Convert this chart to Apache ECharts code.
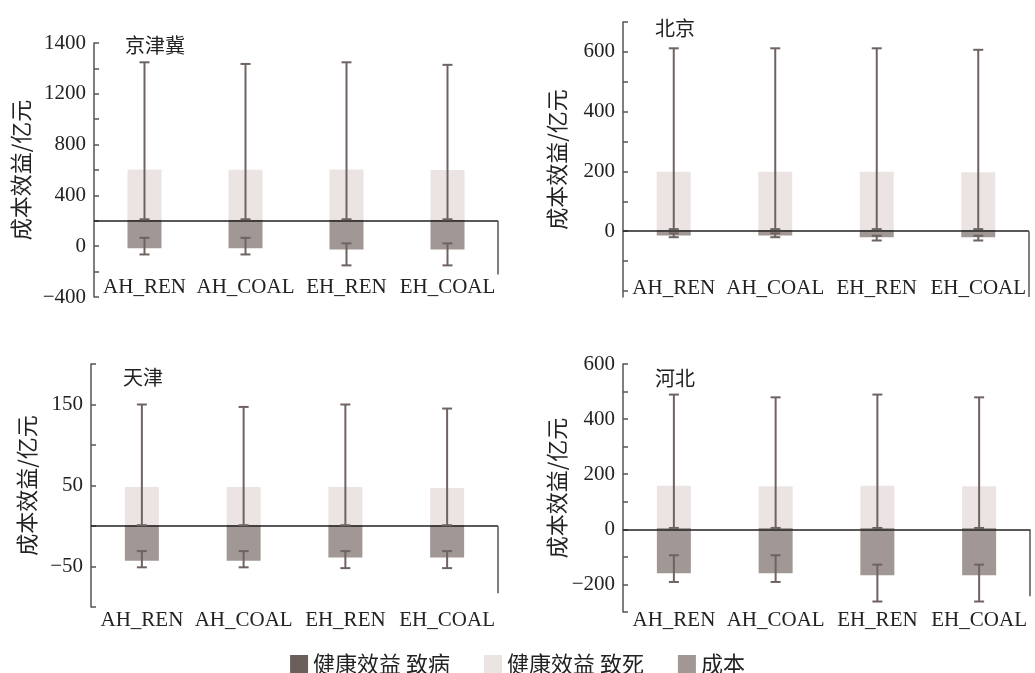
<!DOCTYPE html>
<html><head><meta charset="utf-8">
<script src="https://cdn.jsdelivr.net/npm/echarts@6/dist/echarts.min.js"></script>
<style>html,body{margin:0;padding:0;background:#fff}#c{width:1035px;height:673px}</style>
</head><body><div id="c"></div>
<script>
const categories = ['AH_REN', 'AH_COAL', 'EH_REN', 'EH_COAL'];
const regions = ['京津冀', '北京', '天津', '河北'];
const seriesNames = ['健康效益 致病', '健康效益 致死', '成本'];

// 京津冀
const morbJJJ = [8, 8, 8, 8];
const mortJJJ = [396, 394, 396, 392];
const costJJJ = [-216, -216, -226, -226];
const benLoJJJ = [12, 12, 12, 12];
const benHiJJJ = [1248, 1235, 1248, 1228];
const costHiJJJ = [-134, -134, -178, -178];
const costLoJJJ = [-265, -265, -351, -351];
// 北京
const morbBJ = [3, 3, 3, 3];
const mortBJ = [196, 196, 196, 194];
const costBJ = [-14, -14, -20, -20];
const benLoBJ = [7, 7, 7, 7];
const benHiBJ = [612, 612, 612, 607];
const costHiBJ = [-7, -7, -15, -15];
const costLoBJ = [-20, -20, -31, -31];
// 天津
const morbTJ = [1, 1, 1, 1];
const mortTJ = [47, 47, 47, 46];
const costTJ = [-43, -43, -39, -39];
const benLoTJ = [1, 1, 1, 1];
const benHiTJ = [150, 147, 150, 145];
const costHiTJ = [-31, -31, -31, -31];
const costLoTJ = [-51, -51, -52, -52];
// 河北
const morbHB = [4, 4, 4, 4];
const mortHB = [154, 152, 154, 152];
const costHB = [-159, -159, -167, -167];
const benLoHB = [5, 5, 5, 5];
const benHiHB = [489, 479, 489, 479];
const costHiHB = [-94, -94, -128, -128];
const costLoHB = [-191, -191, -262, -262];

// axis ticks and labels
const ticksJJJ = [-600, -400, -200, 0, 200, 400, 600, 800, 1000, 1200, 1400];
const labelPosJJJ = [1400, 1000, 600, 200, -200, -600];
const labelTextJJJ = ['1400', '1200', '800', '400', '0', '\u2212400'];
const ticksBJ = [-200, -100, 0, 100, 200, 300, 400, 500, 600, 700];
const labelPosBJ = [0, 200, 400, 600];
const ticksTJ = [-100, -50, 0, 50, 100, 150, 200];
const labelPosTJ = [-50, 50, 150];
const ticksHB = [-300, -200, -100, 0, 100, 200, 300, 400, 500, 600];
const labelPosHB = [-200, 0, 200, 400, 600];
const rightBorderEnd = [-423, -220, -83, -243];

const colors = ['#6b5f5c', '#ece4e3', '#a19794'];
const errColor = '#6e6361';
const CJK = 'Noto Sans CJK SC';
const SERIF = 'Liberation Serif';

const panels = [
  {morb: morbJJJ, mort: mortJJJ, cost: costJJJ, bLo: benLoJJJ, bHi: benHiJJJ, cHi: costHiJJJ, cLo: costLoJJJ,
   min: -600, max: 1400, ticks: ticksJJJ, labels: labelPosJJJ, texts: labelTextJJJ,
   grid: {left: 94, top: 43, width: 404, height: 254}, xMargin: -20, nameGap: 62, title: {left: 120, top: 30}},
  {morb: morbBJ, mort: mortBJ, cost: costBJ, bLo: benLoBJ, bHi: benHiBJ, cHi: costHiBJ, cLo: costLoBJ,
   min: -220, max: 700, ticks: ticksBJ, labels: labelPosBJ, texts: null,
   grid: {left: 623, top: 22, width: 406, height: 275}, xMargin: -19, nameGap: 55, title: {left: 650, top: 13}},
  {morb: morbTJ, mort: mortTJ, cost: costTJ, bLo: benLoTJ, bHi: benHiTJ, cHi: costHiTJ, cLo: costLoTJ,
   min: -100, max: 200, ticks: ticksTJ, labels: labelPosTJ, texts: null,
   grid: {left: 91, top: 364, width: 407, height: 243}, xMargin: 3, nameGap: 53, title: {left: 118, top: 362}},
  {morb: morbHB, mort: mortHB, cost: costHB, bLo: benLoHB, bHi: benHiHB, cHi: costHiHB, cLo: costLoHB,
   min: -300, max: 600, ticks: ticksHB, labels: labelPosHB, texts: null,
   grid: {left: 623, top: 364, width: 407, height: 248}, xMargin: -2, nameGap: 55, title: {left: 650, top: 363}}
];

function errRender(params, api) {
  const x = api.value(0);
  const lo = api.coord([x, api.value(1)]);
  const hi = api.coord([x, api.value(2)]);
  const h = 5;
  const st = {stroke: errColor, lineWidth: 2};
  return {type: 'group', children: [
    {type: 'line', shape: {x1: lo[0], y1: lo[1], x2: hi[0], y2: hi[1]}, style: st},
    {type: 'line', shape: {x1: lo[0] - h, y1: lo[1], x2: lo[0] + h, y2: lo[1]}, style: st},
    {type: 'line', shape: {x1: hi[0] - h, y1: hi[1], x2: hi[0] + h, y2: hi[1]}, style: st}
  ]};
}

const grids = [], xAxes = [], yAxes = [], series = [], titles = [];
panels.forEach((p, i) => {
  grids.push(Object.assign({containLabel: false}, p.grid));
  titles.push({text: regions[i], left: p.title.left, top: p.title.top,
    textStyle: {fontFamily: CJK, fontSize: 20, fontWeight: 'normal', color: '#222'}});
  xAxes.push({gridIndex: i, type: 'category', data: categories,
    axisLine: {show: false}, axisTick: {show: false},
    axisLabel: {interval: 0, margin: p.xMargin, fontFamily: SERIF, fontSize: 21, color: '#222'}});
  yAxes.push({gridIndex: i, type: 'value', min: p.min, max: p.max,
    name: '成本效益/亿元', nameLocation: 'middle', nameGap: p.nameGap,
    nameTextStyle: {fontFamily: CJK, fontSize: 22, color: '#222'},
    axisLine: {show: true, onZero: false, lineStyle: {color: '#555', width: 1.5}},
    axisTick: {show: true, inside: true, length: 5, customValues: p.ticks, lineStyle: {color: '#555', width: 1.5}},
    axisLabel: {customValues: p.labels, margin: 8, fontFamily: SERIF, fontSize: 21, color: '#222',
      formatter: v => p.texts ? p.texts[p.labels.indexOf(v)] : String(v).replace('-', '\u2212')},
    splitLine: {show: false}});
  const common = {type: 'bar', xAxisIndex: i, yAxisIndex: i, stack: 'a' + i, barWidth: 34};
  series.push(Object.assign({}, common, {name: seriesNames[0], data: p.morb, itemStyle: {color: colors[0]}}));
  series.push(Object.assign({}, common, {name: seriesNames[1], data: p.mort, itemStyle: {color: colors[1]}}));
  series.push(Object.assign({}, common, {name: seriesNames[2], data: p.cost, itemStyle: {color: colors[2]},
    markLine: {silent: true, symbol: 'none', label: {show: false}, animation: false,
      lineStyle: {color: '#222', width: 1.5, type: 'solid'}, data: [{yAxis: 0}]}}));
  series.push({type: 'custom', xAxisIndex: i, yAxisIndex: i, z: 5, renderItem: errRender,
    data: categories.map((c, k) => [k, p.bLo[k], p.bHi[k]])});
  series.push({type: 'custom', xAxisIndex: i, yAxisIndex: i, z: 5, renderItem: errRender,
    data: categories.map((c, k) => [k, p.cLo[k], p.cHi[k]])});
});

const chart = echarts.init(document.getElementById('c'), null, {renderer: 'canvas'});
chart.setOption({
  animation: false,
  backgroundColor: '#fff',
  title: titles,
  grid: grids, xAxis: xAxes, yAxis: yAxes, series: series,
  legend: {data: seriesNames, left: 'center', top: 648, itemWidth: 18, itemHeight: 18, itemGap: 34, icon: 'rect',
    textStyle: {fontFamily: CJK, fontSize: 22, color: '#222'}}
});
const borders = panels.map((p, i) => {
  const x = p.grid.left + p.grid.width;
  const y0 = chart.convertToPixel({yAxisIndex: i}, 0);
  const y1 = chart.convertToPixel({yAxisIndex: i}, rightBorderEnd[i]);
  return {type: 'line', shape: {x1: x, y1: y0, x2: x, y2: y1}, style: {stroke: '#555', lineWidth: 1.5}, z: 10};
});
chart.setOption({graphic: borders});
</script></body></html>
